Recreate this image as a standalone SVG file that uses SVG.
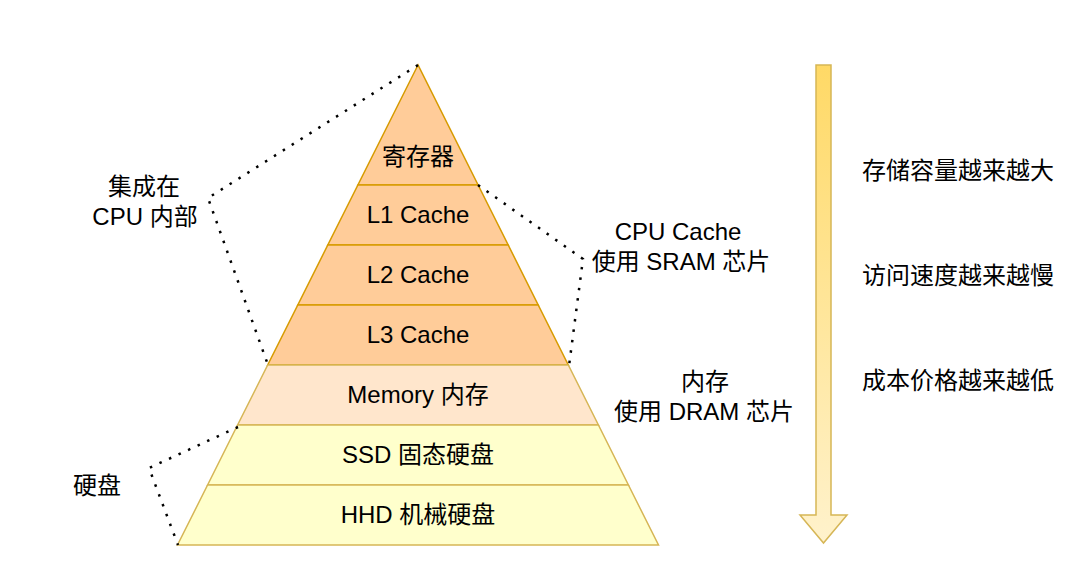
<svg xmlns="http://www.w3.org/2000/svg" width="1077" height="564" viewBox="0 0 1077 564">
<style>
text{font-family:"Liberation Sans","Noto Sans CJK SC",sans-serif;font-size:24px;fill:#000;}
.c{text-anchor:middle;}
.l{text-anchor:start;}
.cache{fill:#FFCC99;stroke:#D79B00;stroke-width:1.5;}
.mem{fill:#FFE6CC;stroke:#D6B656;stroke-width:1.5;}
.disk{fill:#FFFFCC;stroke:#D6B656;stroke-width:1.5;}
.dot{fill:none;stroke:#000;stroke-width:2.5;stroke-dasharray:2.5 8;}
</style>
<defs>
<linearGradient id="g" x1="0" y1="0" x2="0" y2="1">
<stop offset="0" stop-color="#FFD966"/>
<stop offset="1" stop-color="#FFF2CC"/>
</linearGradient>
</defs>
<rect width="1077" height="564" fill="#fff"/>
<g id="reg"><polygon class="cache" points="418,65 357.9,185 478.1,185"/><text class="c" x="418" y="165">寄存器</text></g>
<g id="l1"><polygon class="cache" points="357.9,185 478.1,185 508.2,245 327.8,245"/><text class="c" x="418" y="223">L1 Cache</text></g>
<g id="l2"><polygon class="cache" points="327.8,245 508.2,245 538.2,305 297.8,305"/><text class="c" x="418" y="283">L2 Cache</text></g>
<g id="l3"><polygon class="cache" points="297.8,305 538.2,305 568.3,365 267.7,365"/><text class="c" x="418" y="343">L3 Cache</text></g>
<g id="mem"><polygon class="mem" points="267.7,365 568.3,365 598.4,425 237.6,425"/><text class="c" x="418" y="403">Memory 内存</text></g>
<g id="ssd"><polygon class="disk" points="237.6,425 598.4,425 628.4,485 207.6,485"/><text class="c" x="418" y="463">SSD 固态硬盘</text></g>
<g id="hhd"><polygon class="disk" points="207.6,485 628.4,485 658.5,545 177.5,545"/><text class="c" x="418" y="523">HHD 机械硬盘</text></g>
<g id="connectors">
<polyline class="dot" points="418,65 208,198 268,365"/>
<polyline class="dot" points="478,185 583,259 569,366"/>
<polyline class="dot" points="238,427 149,468 178,545"/>
</g>
<g id="label-cpu"><text class="c" x="144" y="195">集成在</text><text class="c" x="145" y="225">CPU 内部</text></g>
<g id="label-sram"><text class="c" x="678" y="240">CPU Cache</text><text class="c" x="681" y="270">使用 SRAM 芯片</text></g>
<g id="label-dram"><text class="c" x="705" y="390">内存</text><text class="c" x="704" y="420">使用 DRAM 芯片</text></g>
<g id="label-disk"><text class="c" x="97" y="494">硬盘</text></g>
<g id="arrow"><polygon points="816,65 831,65 831,515 847,515 823.5,543 800,515 816,515" fill="url(#g)" stroke="#D6B656" stroke-width="1.5"/></g>
<g id="notes">
<text class="l" x="862" y="179">存储容量越来越大</text>
<text class="l" x="862" y="284">访问速度越来越慢</text>
<text class="l" x="862" y="389">成本价格越来越低</text>
</g>
</svg>
